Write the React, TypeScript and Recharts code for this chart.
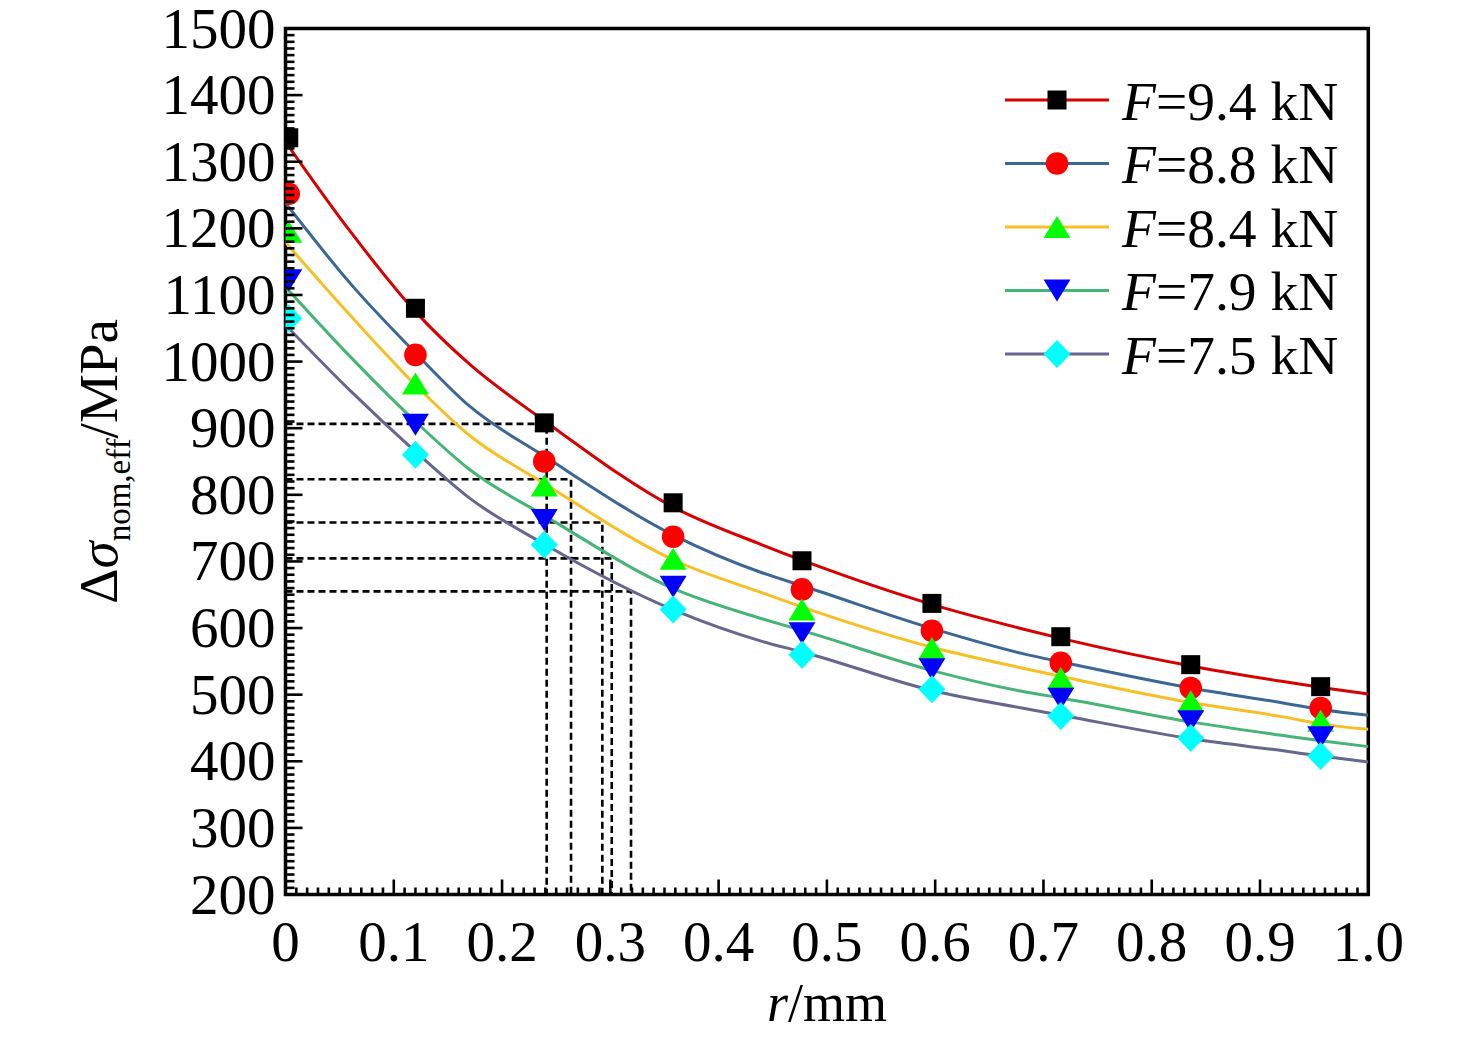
import { ComposedChart, Line, XAxis, YAxis, ReferenceArea } from 'recharts';

const FONT = '"Liberation Serif", "Times New Roman", serif';

// chart frame in page pixels
const W = 1476;
const H = 1041;
const PLOT_LEFT = 285.5;
const PLOT_TOP = 28.5;
const PLOT_RIGHT = 1368.3;
const PLOT_BOTTOM = 894.5;

// axis ticks
const xMajor = [0, 0.1, 0.2, 0.3, 0.4, 0.5, 0.6, 0.7, 0.8, 0.9, 1.0];
const xTickLabels = ['0', '0.1', '0.2', '0.3', '0.4', '0.5', '0.6', '0.7', '0.8', '0.9', '1.0'];
const yMajor = [200, 300, 400, 500, 600, 700, 800, 900, 1000, 1100, 1200, 1300, 1400, 1500];

// measured points (symbols)
const markerR = [0.003, 0.12, 0.239, 0.358, 0.477, 0.597, 0.716, 0.836, 0.956];
const f94 = [1336, 1080, 908, 788, 701, 637, 587, 545, 512];
const f88 = [1252, 1010, 850, 737, 658, 596, 548, 510, 480];
const f84 = [1195, 967, 814, 704, 628, 570, 525, 490, 461];
const f79 = [1122, 905, 762, 662, 592, 538, 494, 460, 436];
const f75 = [1065, 860, 725, 628, 560, 508, 468, 435, 408];

// fitted curves
const curveR = [0, 0.06, 0.12, 0.17, 0.24, 0.36, 0.44, 0.48, 0.6, 0.68, 0.72, 0.84, 0.92, 0.96, 1.0];
const fit94 = [1330, 1195, 1075, 996, 910, 780, 725, 700, 634, 599, 583, 542, 520, 510, 501];
const fit88 = [1238, 1117, 1013, 933, 857, 738, 683, 662, 598, 562, 548, 509, 488, 477, 469];
const fit84 = [1179, 1069, 965, 889, 816, 701, 653, 630, 570, 540, 526, 487, 467, 455, 448];
const fit79 = [1112, 1007, 910, 838, 768, 658, 614, 595, 535, 505, 494, 458, 439, 430, 422];
const fit75 = [1055, 956, 865, 795, 725, 626, 580, 563, 505, 480, 468, 433, 416, 407, 399];

// dashed guide lines
const guideR = [0.2412, 0.2637, 0.2926, 0.3013, 0.3191];
const guideV = [906.5, 823.3, 758.4, 704.6, 655.1];

const series = [
  { label: '=9.4 kN', line: '#d80000', fill: '#000000', shape: 'square', marks: f94, fit: fit94 },
  { label: '=8.8 kN', line: '#3a6795', fill: '#ff0000', shape: 'circle', marks: f88, fit: fit88 },
  { label: '=8.4 kN', line: '#f8bf24', fill: '#00ff00', shape: 'up', marks: f84, fit: fit84 },
  { label: '=7.9 kN', line: '#45b575', fill: '#0000ff', shape: 'down', marks: f79, fit: fit79 },
  { label: '=7.5 kN', line: '#66668f', fill: '#00ffff', shape: 'diamond', marks: f75, fit: fit75 },
];

const toPoints = (xs: number[], ys: number[]) => xs.map((r, i) => ({ r, v: ys[i] }));

// minor ticks: 10 per major interval
const xTicks: number[] = [];
xMajor.forEach((m, i) => {
  xTicks.push(m);
  if (i < xMajor.length - 1) for (let k = 1; k < 10; k++) xTicks.push(+(m + k * 0.01).toFixed(2));
});
const yTicks: number[] = [];
yMajor.forEach((m, i) => {
  yTicks.push(m);
  if (i < yMajor.length - 1) for (let k = 1; k < 10; k++) yTicks.push(m + k * 10);
});

function Marker({ cx, cy, shape, fill }: { cx?: number; cy?: number; shape: string; fill: string }) {
  if (cx == null || cy == null) return null;
  if (shape === 'square') return <rect x={cx - 9.5} y={cy - 9.5} width={19} height={19} fill={fill} />;
  if (shape === 'circle') return <circle cx={cx} cy={cy} r={11.3} fill={fill} />;
  if (shape === 'up')
    return <polygon points={`${cx - 13.5},${cy + 11} ${cx + 13.5},${cy + 11} ${cx},${cy - 11}`} fill={fill} />;
  if (shape === 'down')
    return <polygon points={`${cx - 13.5},${cy - 11} ${cx + 13.5},${cy - 11} ${cx},${cy + 11}`} fill={fill} />;
  return <polygon points={`${cx},${cy - 14} ${cx + 13.5},${cy} ${cx},${cy + 14} ${cx - 13.5},${cy}`} fill={fill} />;
}

const XTick = (props: any) => {
  const { x, y, payload } = props;
  const v = payload.value as number;
  const idx = Math.round(v * 10);
  const major = Math.abs(v * 10 - idx) < 1e-6;
  return (
    <g>
      <line x1={x} x2={x} y1={y} y2={y - (major ? 15 : 7)} stroke="#000" strokeWidth={2.6} />
      {major && (
        <text x={x} y={y + 66} textAnchor="middle" fontSize={57} fontFamily={FONT} fill="#000">
          {xTickLabels[idx]}
        </text>
      )}
    </g>
  );
};

const YTick = (props: any) => {
  const { x, y, payload } = props;
  const v = payload.value as number;
  const major = v % 100 === 0;
  return (
    <g>
      <line x1={x} x2={x + (major ? 17 : 9)} y1={y} y2={y} stroke="#000" strokeWidth={2.6} />
      {major && (
        <text x={x - 10} y={y + 19} textAnchor="end" fontSize={57} fontFamily={FONT} fill="#000">
          {v}
        </text>
      )}
    </g>
  );
};

const Overlay = () => {
  const midX = (PLOT_LEFT + PLOT_RIGHT) / 2;
  const midY = (PLOT_TOP + PLOT_BOTTOM) / 2;
  return (
    <svg width={W} height={H} style={{ position: 'absolute', left: 0, top: 0, pointerEvents: 'none' }}>
      <text x={midX} y={1020.5} textAnchor="middle" fontSize={54} fontFamily={FONT} fill="#000">
        <tspan fontStyle="italic">r</tspan>
        <tspan>/mm</tspan>
      </text>
      <text
        x={117}
        y={midY}
        transform={`rotate(-90, 117, ${midY})`}
        textAnchor="middle"
        fontSize={55}
        fontFamily={FONT}
        fill="#000"
      >
        <tspan>Δ</tspan>
        <tspan fontStyle="italic">σ</tspan>
        <tspan fontSize={33} dy={13}>nom,eff</tspan>
        <tspan dy={-13}>/MPa</tspan>
      </text>
      {series.map((s, i) => {
        const cy = 100 + i * 63.5;
        return (
          <g key={s.label}>
            <line x1={1005} x2={1109} y1={cy} y2={cy} stroke={s.line} strokeWidth={3} />
            <Marker cx={1057} cy={cy} shape={s.shape} fill={s.fill} />
            <text x={1122} y={cy + 19.5} fontSize={55.5} fontFamily={FONT} fill="#000">
              <tspan fontStyle="italic">F</tspan>
              <tspan>{s.label}</tspan>
            </text>
          </g>
        );
      })}
    </svg>
  );
};

export default function App() {
  return (
    <div style={{ position: 'absolute', left: 0, top: 0, width: W, height: H, background: '#fff' }}>
      <ComposedChart
        width={W}
        height={H}
        margin={{ top: PLOT_TOP, right: W - PLOT_RIGHT, bottom: 0, left: 0 }}
      >
        <XAxis
          type="number"
          dataKey="r"
          domain={[0, 1]}
          ticks={xTicks}
          interval={0}
          tick={<XTick />}
          tickSize={0}
          tickMargin={0}
          tickLine={false}
          axisLine={false}
          height={H - PLOT_BOTTOM}
          allowDataOverflow
        />
        <YAxis
          type="number"
          dataKey="v"
          domain={[200, 1500]}
          ticks={yTicks}
          interval={0}
          tick={<YTick />}
          tickSize={0}
          tickMargin={0}
          tickLine={false}
          axisLine={false}
          width={PLOT_LEFT}
          allowDataOverflow
        />
        {guideR.map((gr, i) => (
          <Line
            key={`guide-${i}`}
            data={[
              { r: 0, v: guideV[i] },
              { r: gr, v: guideV[i] },
              { r: gr, v: 200 },
            ]}
            dataKey="v"
            type="linear"
            stroke="#000"
            strokeWidth={2.6}
            strokeDasharray="7 4"
            dot={false}
            activeDot={false}
            isAnimationActive={false}
          />
        ))}
        {series.map((s) => (
          <Line
            key={`fit-${s.label}`}
            data={toPoints(curveR, s.fit)}
            dataKey="v"
            type="monotone"
            stroke={s.line}
            strokeWidth={3}
            dot={false}
            activeDot={false}
            isAnimationActive={false}
          />
        ))}
        {series.map((s) => (
          <Line
            key={`mark-${s.label}`}
            data={toPoints(markerR, s.marks)}
            dataKey="v"
            stroke="none"
            dot={(p: any) => <Marker key={`m-${s.label}-${p.index}`} cx={p.cx} cy={p.cy} shape={s.shape} fill={s.fill} />}
            activeDot={false}
            isAnimationActive={false}
          />
        ))}
        <ReferenceArea x1={0} x2={1} y1={200} y2={1500} fill="none" stroke="#000" strokeWidth={3.5} />
      </ComposedChart>
      <Overlay />
    </div>
  );
}
